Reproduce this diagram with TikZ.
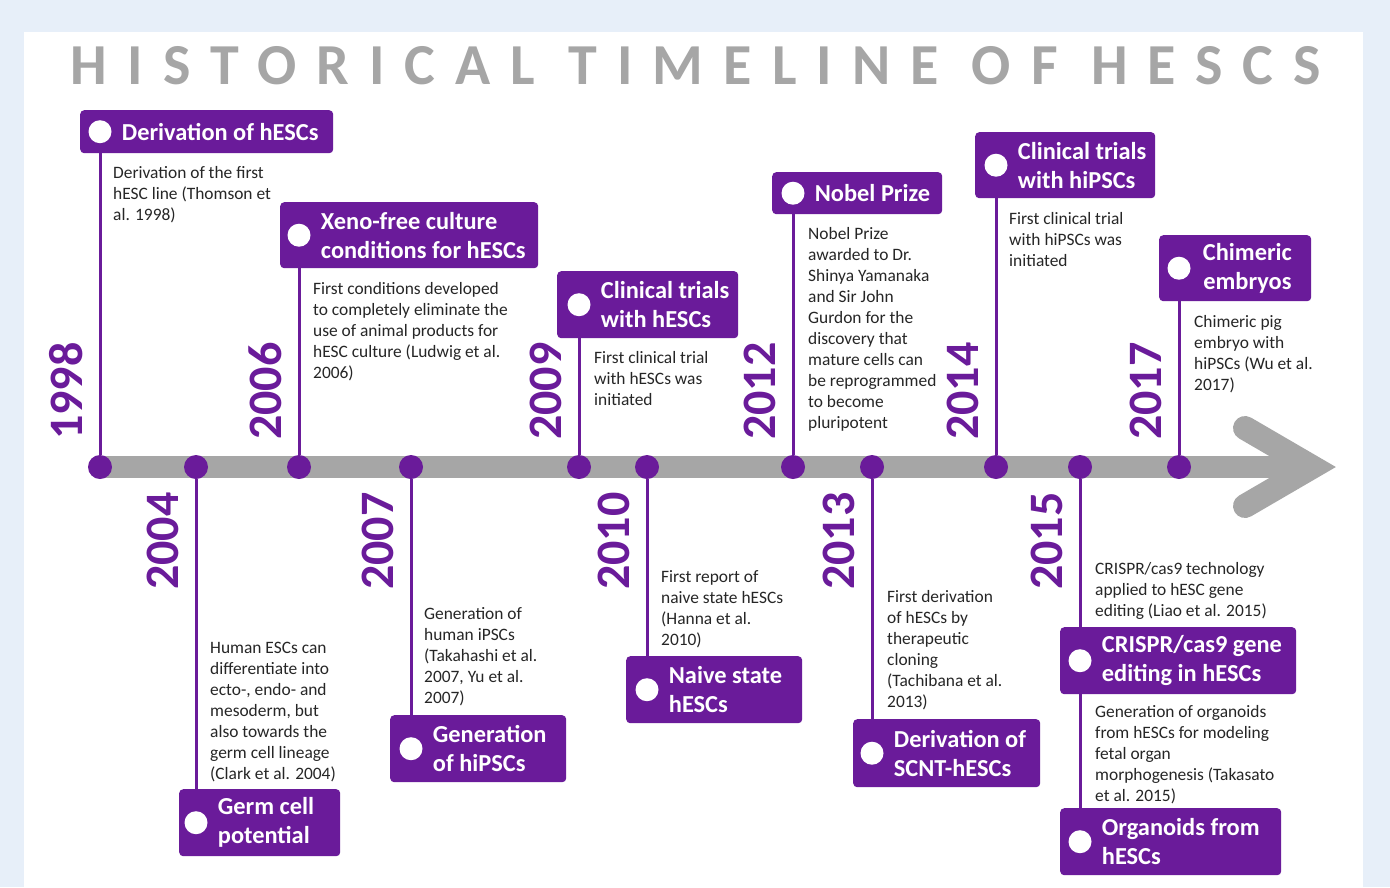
\documentclass[tikz,border=0pt]{standalone}
\usepackage{fontspec}
\setmainfont{Carlito}
\usetikzlibrary{calc,positioning}

\definecolor{hpurple}{RGB}{106,27,154}
\definecolor{hgray}{RGB}{166,166,166}
\definecolor{hback}{RGB}{231,239,249}

\tikzset{
  hbox/.style={fill=hpurple,rounded corners=4pt,anchor=north west,inner sep=0pt},
  hdot/.style={circle,fill=white,minimum size=23pt,inner sep=0pt},
  htext/.style={text=white,font=\fontsize{24.4}{29}\selectfont\bfseries,align=left,inner sep=0pt},
  desc/.style={font=\fontsize{17.4}{21}\selectfont,align=left,anchor=north west,inner sep=0pt,text=black!85},
  year/.style={text=hpurple,font=\fontsize{48}{48}\selectfont\bfseries,rotate=90,anchor=base west,inner sep=0pt},
  tdot/.style={circle,fill=hpurple,minimum size=24pt,inner sep=0pt},
  vline/.style={draw=hpurple,line width=3pt},
}

\begin{document}
\begin{tikzpicture}[x=1pt,y=-1pt]
\useasboundingbox (0,0) rectangle (1390,887);
\fill[hback] (0,0) rectangle (1390,887);
\fill[white] (24,32) rectangle (1363,887);

\node[font=\fontsize{58}{58}\selectfont\bfseries\addfontfeature{LetterSpace=34.6},text=hgray] (title) at (696,66) {HISTORICAL TIMELINE OF HESCS};

% time axis
\coordinate (start) at (100,467);
\coordinate (tip) at (1312,467);
\draw[hgray,line width=22pt] (start) -- (tip);
\draw[hgray,line width=24pt,line cap=round,line join=miter] ($(tip)+(-67,-39)$) -- (tip) -- ($(tip)+(-67,39)$);

\node[tdot] (d98) at (100,467) {};
\node[tdot] (d04) at (196,467) {};
\node[tdot] (d06) at (299,467) {};
\node[tdot] (d07) at (411,467) {};
\node[tdot] (d09) at (579,467) {};
\node[tdot] (d10) at (647,467) {};
\node[tdot] (d12) at (793,467) {};
\node[tdot] (d13) at (872,467) {};
\node[tdot] (d14) at (996,467) {};
\node[tdot] (d15) at (1080,467) {};
\node[tdot] (d17) at (1179,467) {};

% years
\node[year] (y98) at ($(d98)+(-18,-27)$) {1998};
\node[year] (y04) at ($(d04)+(-18,123)$) {2004};
\node[year] (y06) at ($(d06)+(-18,-27)$) {2006};
\node[year] (y07) at ($(d07)+(-18,123)$) {2007};
\node[year] (y09) at ($(d09)+(-18,-27)$) {2009};
\node[year] (y10) at ($(d10)+(-18,123)$) {2010};
\node[year] (y12) at ($(d12)+(-18,-27)$) {2012};
\node[year] (y13) at ($(d13)+(-18,123)$) {2013};
\node[year] (y14) at ($(d14)+(-18,-27)$) {2014};
\node[year] (y15) at ($(d15)+(-18,123)$) {2015};
\node[year] (y17) at ($(d17)+(-18,-27)$) {2017};

% event boxes
\node[hbox,minimum width=253pt,minimum height=43pt] (h98) at (80,110) {};
\node[hbox,minimum width=161pt,minimum height=67pt] (h04) at (179,789) {};
\node[hbox,minimum width=258pt,minimum height=66pt] (h06) at (280,202) {};
\node[hbox,minimum width=176pt,minimum height=67pt] (h07) at (390,715) {};
\node[hbox,minimum width=181pt,minimum height=67pt] (h09) at (557,271) {};
\node[hbox,minimum width=176pt,minimum height=67pt] (h10) at (626,656) {};
\node[hbox,minimum width=170pt,minimum height=42pt] (h12) at (772,172) {};
\node[hbox,minimum width=187pt,minimum height=68pt] (h13) at (853,719) {};
\node[hbox,minimum width=180pt,minimum height=66pt] (h14) at (975,132) {};
\node[hbox,minimum width=236pt,minimum height=67pt] (h15a) at (1060,627) {};
\node[hbox,minimum width=221pt,minimum height=67pt] (h15b) at (1060,808) {};
\node[hbox,minimum width=152pt,minimum height=66pt] (h17) at (1159,235) {};

% stems
\draw[vline] (d98) -- (h98.south -| d98);
\draw[vline] (d04) -- (h04.north -| d04);
\draw[vline] (d06) -- (h06.south -| d06);
\draw[vline] (d07) -- (h07.north -| d07);
\draw[vline] (d09) -- (h09.south -| d09);
\draw[vline] (d10) -- (h10.north -| d10);
\draw[vline] (d12) -- (h12.south -| d12);
\draw[vline] (d13) -- (h13.north -| d13);
\draw[vline] (d14) -- (h14.south -| d14);
\draw[vline] (d15) -- (h15a.north -| d15);
\draw[vline] (h15a.south -| d15) -- (h15b.north -| d15);
\draw[vline] (d17) -- (h17.south -| d17);

% box titles
\node[hdot] (c98) at (h98.west -| d98) {};
\node[htext,right=10pt of c98] (t98) {Derivation of hESCs};
\node[hdot] (c04) at (h04.west -| d04) {};
\node[htext,right=10pt of c04] (t04) {Germ cell\\potential};
\node[hdot] (c06) at (h06.west -| d06) {};
\node[htext,right=10pt of c06] (t06) {Xeno-free culture\\conditions for hESCs};
\node[hdot] (c07) at (h07.west -| d07) {};
\node[htext,right=10pt of c07] (t07) {Generation\\of hiPSCs};
\node[hdot] (c09) at (h09.west -| d09) {};
\node[htext,right=10pt of c09] (t09) {Clinical trials\\with hESCs};
\node[hdot] (c10) at (h10.west -| d10) {};
\node[htext,right=10pt of c10] (t10) {Naive state\\hESCs};
\node[hdot] (c12) at (h12.west -| d12) {};
\node[htext,right=10pt of c12] (t12) {Nobel Prize};
\node[hdot] (c13) at (h13.west -| d13) {};
\node[htext,right=10pt of c13] (t13) {Derivation of\\SCNT-hESCs};
\node[hdot] (c14) at (h14.west -| d14) {};
\node[htext,right=10pt of c14] (t14) {Clinical trials\\with hiPSCs};
\node[hdot] (c15a) at (h15a.west -| d15) {};
\node[htext,right=10pt of c15a] (t15a) {CRISPR/cas9 gene\\editing in hESCs};
\node[hdot] (c15b) at (h15b.west -| d15) {};
\node[htext,right=10pt of c15b] (t15b) {Organoids from\\hESCs};
\node[hdot] (c17) at (h17.west -| d17) {};
\node[htext,align=center,right=12pt of c17] (t17) {Chimeric\\embryos};

% descriptions
\node[desc] (p98) at (113,166) {Derivation of the first\\hESC line (Thomson et\\al. 1998)};
\node[desc] (p04) at (210,642) {Human ESCs can\\differentiate into\\ecto-, endo- and\\mesoderm, but\\also towards the\\germ cell lineage\\(Clark et al. 2004)};
\node[desc] (p06) at (313,282) {First conditions developed\\to completely eliminate the\\use of animal products for\\hESC culture (Ludwig et al.\\2006)};
\node[desc] (p07) at (424,607) {Generation of\\human iPSCs\\(Takahashi et al.\\2007, Yu et al.\\2007)};
\node[desc] (p09) at (594,351) {First clinical trial\\with hESCs was\\initiated};
\node[desc] (p10) at (661,570) {First report of\\naive state hESCs\\(Hanna et al.\\2010)};
\node[desc] (p12) at (808,227) {Nobel Prize\\awarded to Dr.\\Shinya Yamanaka\\and Sir John\\Gurdon for the\\discovery that\\mature cells can\\be reprogrammed\\to become\\pluripotent};
\node[desc] (p13) at (887,590) {First derivation\\of hESCs by\\therapeutic\\cloning\\(Tachibana et al.\\2013)};
\node[desc] (p14) at (1009,212) {First clinical trial\\with hiPSCs was\\initiated};
\node[desc] (p15a) at (1095,562) {CRISPR/cas9 technology\\applied to hESC gene\\editing (Liao et al. 2015)};
\node[desc] (p15b) at (1095,705) {Generation of organoids\\from hESCs for modeling\\fetal organ\\morphogenesis (Takasato\\et al. 2015)};
\node[desc] (p17) at (1194,315) {Chimeric pig\\embryo with\\hiPSCs (Wu et al.\\2017)};
\end{tikzpicture}
\end{document}
